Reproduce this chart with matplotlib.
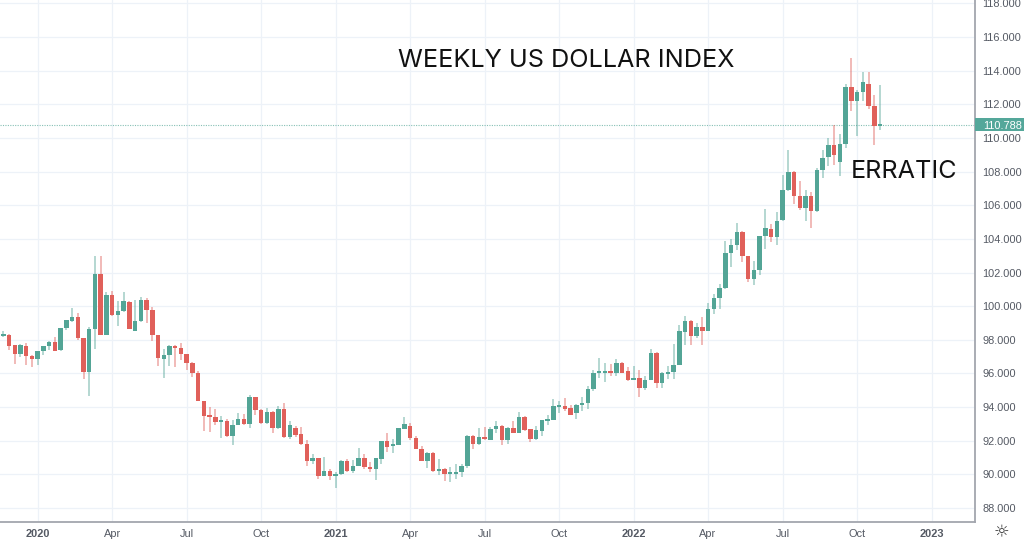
import matplotlib
matplotlib.use("Agg")
import matplotlib.pyplot as plt
from matplotlib.patches import Rectangle
from matplotlib.transforms import blended_transform_factory

opens = [98.22,98.28,97.68,97.17,97.64,97.01,96.87,97.35,97.62,97.88,97.37,98.69,99.13,99.33,98.12,96.10,98.67,101.94,98.30,100.65,
99.49,99.70,100.22,98.55,99.11,100.36,99.80,98.28,96.83,97.09,97.66,97.50,97.13,96.65,96.00,94.34,93.47,93.39,93.09,93.17,
92.28,92.95,93.27,93.01,94.59,93.80,93.05,93.72,92.73,93.88,92.21,92.73,92.41,91.78,90.79,90.97,89.90,90.21,89.92,90.04,
90.79,90.19,90.51,90.99,90.43,90.33,90.93,92.00,91.66,91.74,92.71,92.89,92.15,91.52,90.81,91.30,90.19,90.31,90.00,90.04,
90.12,90.47,92.31,91.78,92.23,92.06,92.68,92.90,92.06,92.76,92.48,93.43,92.68,92.08,92.58,93.19,93.23,94.02,94.06,93.93,
93.63,94.10,94.22,95.07,96.02,96.04,96.14,96.02,96.64,96.12,95.63,95.73,95.13,95.61,97.19,95.45,95.98,96.06,96.52,98.48,
99.09,98.20,98.78,98.52,99.82,100.46,101.09,103.17,103.62,104.43,102.99,101.60,102.14,104.16,104.61,104.10,105.11,106.89,108.00,106.57,
105.82,106.57,105.64,108.12,108.85,109.60,108.59,109.64,113.01,112.18,112.75,113.23,111.88,110.69]
highs = [98.55,98.36,97.68,97.76,97.80,97.11,97.35,97.66,97.94,98.16,98.69,99.19,99.88,99.62,98.12,98.79,102.99,102.99,100.85,100.91,
100.28,100.85,100.30,100.38,100.55,100.48,99.94,98.28,97.47,97.72,97.72,97.80,97.17,96.69,96.14,94.38,93.98,93.90,93.45,93.31,
93.21,93.64,93.58,94.73,94.59,93.88,93.92,93.76,94.08,94.27,93.20,92.85,92.81,92.02,91.22,90.97,91.01,90.35,90.17,90.83,
90.93,90.87,91.58,91.22,90.75,90.99,92.00,92.49,92.13,92.75,93.40,93.05,92.29,91.70,91.32,91.34,90.91,90.39,90.43,90.61,
90.63,92.37,92.35,92.75,92.84,92.84,93.15,92.92,92.84,93.17,93.71,93.47,92.72,92.88,93.23,93.51,94.48,94.36,94.54,94.14,
94.18,94.60,95.25,96.20,96.91,96.62,96.56,96.87,96.68,96.36,96.46,96.20,95.85,97.43,97.27,96.08,96.44,97.73,98.91,99.41,
99.17,98.97,99.33,100.16,100.73,101.31,103.88,104.02,104.97,104.45,103.01,102.69,104.18,105.76,104.91,105.60,107.82,109.31,108.06,107.43,
106.93,106.79,108.24,109.27,110.00,110.79,110.26,113.21,114.77,112.87,113.92,113.92,112.53,113.17]
lows = [98.16,97.37,96.57,96.95,96.53,96.36,96.53,97.09,97.41,97.31,97.35,98.59,99.07,97.96,95.70,94.65,97.45,98.30,98.30,99.39,
98.83,99.66,98.63,98.51,99.07,99.01,97.92,96.42,95.74,96.42,96.36,96.81,96.22,95.78,94.34,92.56,92.54,92.93,92.14,92.22,
91.76,92.95,92.93,92.75,93.52,93.01,93.01,92.49,92.69,92.17,92.13,92.25,91.74,90.51,90.59,89.72,89.88,89.68,89.20,89.96,
90.12,90.08,90.49,90.31,90.15,89.68,90.63,91.34,91.30,91.72,92.69,92.02,91.48,90.79,90.39,90.15,89.96,89.60,89.52,89.72,
89.84,90.39,91.50,91.74,92.04,92.04,92.48,91.77,91.81,92.44,92.44,92.60,91.93,92.06,92.30,92.95,93.21,93.67,93.79,93.51,
93.27,93.77,93.87,94.97,95.73,95.51,95.83,95.85,96.00,95.57,95.61,94.60,95.01,95.59,95.13,95.13,95.69,95.69,96.50,97.69,
97.69,98.12,97.67,98.50,99.56,99.82,101.05,102.34,103.33,102.63,101.43,101.27,101.84,103.40,103.82,103.66,105.09,106.87,106.10,105.70,
105.05,104.65,105.58,107.60,108.32,108.40,107.72,109.39,111.58,110.10,112.18,111.74,109.56,110.45]
closes = [98.30,97.66,97.17,97.68,97.01,96.87,97.35,97.62,97.88,97.35,98.69,99.17,99.33,98.12,96.08,98.67,101.94,98.30,100.67,99.45,
99.70,100.30,98.67,99.11,100.36,99.80,98.28,96.93,97.09,97.66,97.50,97.13,96.65,96.00,94.34,93.45,93.39,93.09,93.17,92.26,
92.95,93.27,92.97,94.59,93.80,93.05,93.72,92.73,93.88,92.21,92.93,92.37,91.78,90.79,90.97,89.90,90.21,89.92,90.04,90.79,
90.21,90.51,90.99,90.43,90.33,90.95,92.00,91.64,91.74,92.73,93.01,92.15,91.52,90.81,91.30,90.19,90.29,90.02,90.06,90.14,
90.51,92.31,91.78,92.21,92.08,92.68,92.88,92.06,92.76,92.48,93.43,92.64,92.08,92.64,93.21,93.27,94.04,94.08,93.91,93.55,
94.10,94.18,95.09,96.04,96.08,96.14,96.02,96.64,96.02,95.61,95.73,95.13,95.63,97.19,95.45,96.00,96.08,96.52,98.50,99.09,
98.22,98.78,98.52,99.83,100.48,101.09,103.19,103.62,104.43,102.99,101.60,102.14,104.16,104.63,104.10,105.09,106.89,108.00,106.53,105.84,
106.57,105.66,108.12,108.83,109.60,108.99,109.66,113.01,112.18,112.75,113.31,111.88,110.69,110.788]
last_price = 110.788
price_ticks = list(range(88, 119, 2))
time_tick_weeks = [6, 19, 32, 45, 58, 71, 84, 97, 110, 123, 136, 149, 162]
time_tick_labels = ["2020", "Apr", "Jul", "Oct", "2021", "Apr", "Jul", "Oct", "2022", "Apr", "Jul", "Oct", "2023"]
year_labels = {"2020", "2021", "2022", "2023"}

UP = "#53A596"
DOWN = "#E0605A"
GRID = "#EDF2F8"
AXIS = "#A3A6AE"
LABEL = "#555A64"

fig = plt.figure(figsize=(10.24, 5.4), dpi=100)
ax = fig.add_axes([0, 18 / 540, 975 / 1024, 522 / 540])
ax.set_xlim(-0.576, 169.58)
ax.set_ylim(87.17, 118.20)

ax.set_axisbelow(True)
ax.grid(True, color=GRID, linewidth=0.9)
ax.set_yticks(price_ticks)
ax.set_yticklabels([f"{p}.000" for p in price_ticks], fontsize=7.9,
                   family="Liberation Sans", color=LABEL)
ax.yaxis.tick_right()
ax.tick_params(axis="y", length=0, pad=5.5)
ax.set_xticks(time_tick_weeks)
ax.set_xticklabels(time_tick_labels, fontsize=7.9, family="Liberation Sans", color=LABEL)
for lab in ax.get_xticklabels():
    if lab.get_text() in year_labels:
        lab.set_fontweight("bold")
ax.tick_params(axis="x", length=0, pad=5)

for s in ("top", "left"):
    ax.spines[s].set_visible(False)
for s in ("right", "bottom"):
    ax.spines[s].set_color(AXIS)
    ax.spines[s].set_linewidth(1.3)

n = len(opens)
xs = list(range(n))
colors = [UP if closes[i] >= opens[i] else DOWN for i in xs]
ax.vlines(xs, lows, highs, colors=colors, linewidth=1.1, alpha=0.55, zorder=2)
ax.bar(xs, [max(abs(closes[i] - opens[i]), 0.12) for i in xs],
       bottom=[min(opens[i], closes[i]) for i in xs], width=0.78, color=colors, zorder=3)

ax.axhline(last_price, color=UP, linestyle=(0, (1, 1.2)), linewidth=0.8, alpha=0.7, zorder=1)
tr = blended_transform_factory(ax.transAxes, ax.transData)
ax.add_patch(Rectangle((1.0, last_price - 0.37), 0.0503, 0.74, transform=tr,
                       facecolor="#54A79A", edgecolor="none", clip_on=False, zorder=5))
ax.text(1.0 + 8 / 975, last_price, "110.788", transform=tr, color="white", fontsize=7.9,
        family="Liberation Sans", va="center_baseline", ha="left", zorder=6)

fig.text(566.5 / 1024, 1 - 60.5 / 540, "WEEKLY US DOLLAR INDEX", family="Inter", fontsize=18.15,
         color="#111111", ha="center", va="center")
fig.text(904 / 1024, 1 - 171 / 540, "ERRATIC", family="Inter", fontsize=18.1,
         color="#111111", ha="center", va="center")
fig.text(1001 / 1024, 1 - 532 / 540, "\u263C", family="DejaVu Sans", fontsize=12.5,
         color="#333333", ha="center", va="center")

fig.savefig("out.png", dpi=100)
